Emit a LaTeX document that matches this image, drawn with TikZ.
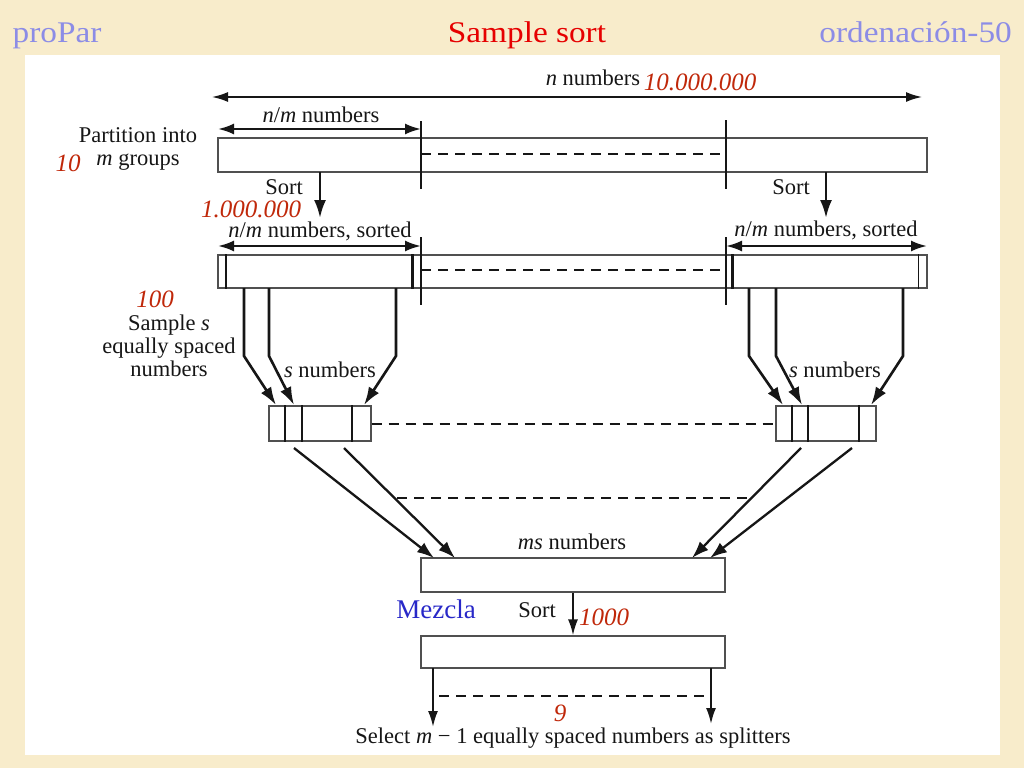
\documentclass[tikz,border=0pt]{standalone}
\usepackage{fontspec}
\setmainfont{Liberation Serif}
\newfontfamily\titlefont[FakeStretch=1.11]{Liberation Serif}
\usetikzlibrary{arrows.meta}
\definecolor{bg}{HTML}{F8ECCB}
\definecolor{ttlblue}{HTML}{8C8CE6}
\definecolor{ttlred}{HTML}{E60000}
\definecolor{numred}{HTML}{C0280A}
\definecolor{mezblue}{HTML}{2828C8}
\definecolor{ink}{HTML}{161616}
\begin{document}
\begin{tikzpicture}[x=1pt,y=-1pt,
  lbl/.style={font=\fontsize{22.5}{23}\selectfont, text=ink, inner sep=0pt},
  rednum/.style={font=\fontsize{25}{26}\selectfont\itshape, text=numred, inner sep=0pt},
  ttl/.style={font=\titlefont\fontsize{30}{32}\selectfont, inner sep=0pt, anchor=base},
  box/.style={draw=ink!75, line width=1.2pt, inner sep=0pt, fill=white},
  divider/.style={draw=ink, line width=2pt},
  inner/.style={draw=ink, line width=2pt},
  dashline/.style={draw=ink, line width=2pt, dash pattern=on 10pt off 7pt},
  arr/.style={draw=ink, line width=2.6pt, -{Latex[length=18pt,width=12pt]}},
  arrb/.style={draw=ink, line width=2.3pt, -{Latex[length=17pt,width=12pt]}},
  thinarr/.style={draw=ink, line width=2pt, -{Latex[length=16pt,width=10pt]}},
  dblarr/.style={draw=ink, line width=2.3pt, {Latex[length=16pt,width=11pt]}-{Latex[length=16pt,width=11pt]}},
  toparr/.style={draw=ink, line width=1.8pt, {Latex[length=16pt,width=10pt]}-{Latex[length=16pt,width=10pt]}}
]
\useasboundingbox (0,0) rectangle (1024,768);
\fill[bg] (0,0) rectangle (1024,768);
\fill[white] (25,55) rectangle (1000,755);

% titles
\node[ttl, text=ttlblue] (tl) at (57,42) {proPar};
\node[ttl, text=ttlred] (tc) at (527,42) {Sample sort};
\node[ttl, text=ttlblue, anchor=base east] (tr) at (1012,42) {ordenación-50};

% ---------- row 1 ----------
\node[box, minimum width=709pt, minimum height=34pt] (row1) at (572.5,155) {};
\coordinate (ta) at (212,97); \coordinate (tb) at (922,97);
\draw[toparr] (ta) -- (tb);
\node[lbl] (nnum) at (593,78) {\textit{n} numbers};
\node[rednum] (n10m) at (700,82) {10.000.000};

\coordinate (d1t) at (421,121); \coordinate (d1b) at (421,189);
\coordinate (d2t) at (726,120); \coordinate (d2b) at (726,189);
\draw[divider] (d1t) -- (d1b);
\draw[divider] (d2t) -- (d2b);
\coordinate (r1da) at (421,154); \coordinate (r1db) at (726,154);
\draw[dashline] (r1da) -- (r1db);

\coordinate (nm1a) at (218,129); \coordinate (nm1b) at (421,129);
\draw[dblarr] (nm1a) -- (nm1b);
\node[lbl] (nmlab) at (321,115) {\textit{n}/\textit{m} numbers};

\node[lbl, align=center] (part) at (138,149) {Partition into\\\textit{m} groups};
\node[rednum] (ten) at (68,163) {10};

% sort arrows
\coordinate (sl1) at (320,172); \coordinate (sl2) at (320,218);
\coordinate (sr1) at (826,172); \coordinate (sr2) at (826,218);
\draw[arr] (sl1) -- (sl2);
\draw[arr] (sr1) -- (sr2);
\node[lbl] (sortL) at (284,187) {Sort};
\node[lbl] (sortR) at (791,187) {Sort};
\node[rednum] (n1m) at (251,209) {1.000.000};

% ---------- row 2 ----------
\node[box, minimum width=709pt, minimum height=33pt] (row2) at (572.5,271.5) {};
\coordinate (e1t) at (421,237); \coordinate (e1b) at (421,305);
\coordinate (e2t) at (726,237); \coordinate (e2b) at (726,305);
\draw[divider] (e1t) -- (e1b);
\draw[divider] (e2t) -- (e2b);
\coordinate (r2da) at (421,270); \coordinate (r2db) at (726,270);
\draw[dashline] (r2da) -- (r2db);
\foreach \dx/\w in {9/1.9, 195/2.5, 515/2.5, 701/1.6}
  \draw[draw=ink, line width=\w pt] ([xshift=\dx pt]row2.north west) -- ([xshift=\dx pt]row2.south west);

\coordinate (nm2a) at (218,246); \coordinate (nm2b) at (421,246);
\coordinate (nm3a) at (726,246); \coordinate (nm3b) at (927,246);
\draw[dblarr] (nm2a) -- (nm2b);
\draw[dblarr] (nm3a) -- (nm3b);
\node[lbl] (nms1) at (320,231) {\textit{n}/\textit{m} numbers, sorted};
\node[lbl] (nms2) at (826,230) {\textit{n}/\textit{m} numbers, sorted};

\node[rednum] (hund) at (155,299) {100};
\node[lbl, align=center] (samp) at (169,346) {Sample \textit{s}\\equally spaced\\numbers};

% ---------- sample boxes ----------
\node[box, minimum width=102pt, minimum height=35pt] (sbL) at (320,423.5) {};
\node[box, minimum width=100pt, minimum height=35pt] (sbR) at (826,423.5) {};
\foreach \dx in {17,34,84}
  \draw[inner] ([xshift=\dx pt]sbL.north west) -- ([xshift=\dx pt]sbL.south west);
\foreach \dx in {17,33,84}
  \draw[inner] ([xshift=\dx pt]sbR.north west) -- ([xshift=\dx pt]sbR.south west);
\draw[dashline] (sbL.east) -- (sbR.east -| sbR.west);

% sampling arrows (left)
\coordinate (a1s) at (244,288); \coordinate (a1m) at (244,356); \coordinate (a1e) at (276,405);
\coordinate (a2s) at (269,288); \coordinate (a2m) at (269,356); \coordinate (a2e) at (294,405);
\coordinate (a3s) at (396,288); \coordinate (a3m) at (396,356); \coordinate (a3e) at (364,405);
\draw[arr] (a1s) -- (a1m) -- (a1e);
\draw[arr] (a2s) -- (a2m) -- (a2e);
\draw[arr] (a3s) -- (a3m) -- (a3e);
% sampling arrows (right)
\coordinate (b1s) at (749,288); \coordinate (b1m) at (749,356); \coordinate (b1e) at (783,405);
\coordinate (b2s) at (776,288); \coordinate (b2m) at (776,356); \coordinate (b2e) at (802,405);
\coordinate (b3s) at (903,288); \coordinate (b3m) at (903,356); \coordinate (b3e) at (871,405);
\draw[arr] (b1s) -- (b1m) -- (b1e);
\draw[arr] (b2s) -- (b2m) -- (b2e);
\draw[arr] (b3s) -- (b3m) -- (b3e);
\node[lbl] (snL) at (330,370) {\textit{s} numbers};
\node[lbl] (snR) at (835,370) {\textit{s} numbers};

% ---------- merge ----------
\node[box, minimum width=304pt, minimum height=34pt] (ms) at (573,575) {};
\node[lbl] (mslab) at (572,542) {\textit{ms} numbers};
\coordinate (c1s) at (294,448); \coordinate (c1e) at (434,558);
\coordinate (c2s) at (344,448); \coordinate (c2e) at (455,558);
\coordinate (c3s) at (801,448); \coordinate (c3e) at (692,558);
\coordinate (c4s) at (852,448); \coordinate (c4e) at (710,558);
\draw[arrb] (c1s) -- (c1e);
\draw[arrb] (c2s) -- (c2e);
\draw[arrb] (c3s) -- (c3e);
\draw[arrb] (c4s) -- (c4e);
\coordinate (mda) at (397,498); \coordinate (mdb) at (749,498);
\draw[dashline] (mda) -- (mdb);

\node[font=\fontsize{27}{28}\selectfont, text=mezblue, inner sep=0pt] (mez) at (436,609) {Mezcla};
\node[lbl] (sortM) at (537,610) {Sort};
\node[rednum] (thou) at (604,617) {1000};

\node[box, minimum width=304pt, minimum height=32pt] (fin) at (573,652) {};
\draw[thinarr] (ms.south) -- (fin.north);

\coordinate (f1s) at (433,668); \coordinate (f1e) at (433,727);
\coordinate (f2s) at (711,668); \coordinate (f2e) at (711,724);
\draw[thinarr] (f1s) -- (f1e);
\draw[thinarr] (f2s) -- (f2e);
\coordinate (fda) at (439,696); \coordinate (fdb) at (711,696);
\draw[dashline] (fda) -- (fdb);
\node[rednum] (nine) at (560,713) {9};
\node[lbl] (sel) at (573,738) {Select \textit{m} − 1 equally spaced numbers as splitters};
\end{tikzpicture}
\end{document}
